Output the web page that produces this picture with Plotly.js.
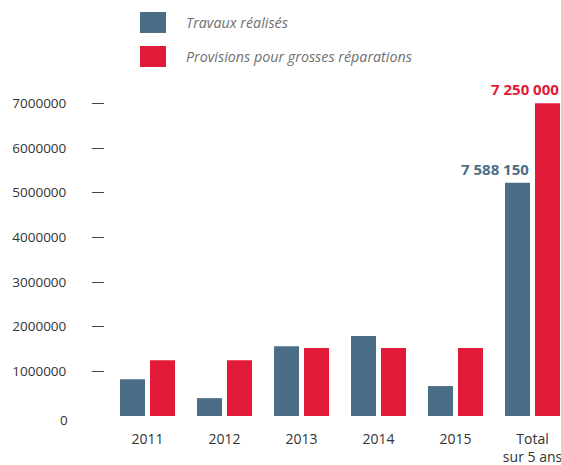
<!DOCTYPE html>
<html><head><meta charset="utf-8">
<script src="https://cdn.plot.ly/plotly-3.0.1.min.js"></script>
<style>html,body{margin:0;padding:0;background:#fff}#chart{width:561px;height:465px}</style>
</head><body><div id="chart"></div>
<script>
var categories = ["2011", "2012", "2013", "2014", "2015", "Total<br>sur 5 ans"];
var travaux = [820000, 400000, 1560000, 1790000, 670000, 5220000];
var provisions = [1250000, 1250000, 1520000, 1520000, 1520000, 7000000];
var seriesNames = ["Travaux réalisés", "Provisions pour grosses réparations"];
var totalLabels = ["7 588 150", "7 250 000"];
var yTicks = [1000000, 2000000, 3000000, 4000000, 5000000, 6000000, 7000000];
var zeroLabel = "0";

var blue = "#4b6e87", red = "#e01a37";
var font = "Open Sans, sans-serif";

var traces = [
  {type: "bar", x: categories, y: travaux, name: seriesNames[0], marker: {color: blue}, hoverinfo: "none"},
  {type: "bar", x: categories, y: provisions, name: seriesNames[1], marker: {color: red}, hoverinfo: "none"}
];

var last = categories.length - 1;
var annotations = [
  {xref: "x", yref: "y", x: last, y: travaux[last], text: "<b>" + totalLabels[0] + "</b>", showarrow: false,
   xanchor: "right", yanchor: "bottom", xshift: -2, yshift: 2, font: {family: font, size: 15, color: blue}},
  {xref: "x", yref: "y", x: last, y: provisions[last], text: "<b>" + totalLabels[1] + "</b>", showarrow: false,
   xanchor: "right", yanchor: "bottom", xshift: 28, yshift: 2, font: {family: font, size: 15, color: red}},
  {xref: "paper", yref: "y", x: 0, y: 0, xshift: -35, yshift: -4, xanchor: "right", yanchor: "middle",
   text: zeroLabel, showarrow: false, font: {family: font, size: 13.5, color: "#333"}}
];
var legendColors = [blue, red];
var shapes = [];
for (var i = 0; i < 2; i++) {
  var rowTop = 12 + i * 34;
  shapes.push({type: "rect", xref: "paper", yref: "paper", layer: "above",
    x0: (140 - 105) / 456, x1: (166 - 105) / 456,
    y0: (465 - 49 - (rowTop + 21)) / 335, y1: (465 - 49 - rowTop) / 335,
    fillcolor: legendColors[i], line: {width: 0}});
  annotations.push({xref: "paper", yref: "paper", x: (184 - 105) / 456, y: (465 - 49 - (rowTop + 10)) / 335,
    xanchor: "left", yanchor: "middle", showarrow: false, text: "<i>" + seriesNames[i] + "</i>",
    font: {family: font, size: 14.3, color: "#707070"}});
}

var layout = {
  width: 561, height: 465,
  margin: {l: 105, r: 0, t: 81, b: 49},
  paper_bgcolor: "#fff", plot_bgcolor: "#fff",
  showlegend: false,
  barmode: "group", bargap: 0.221, bargroupgap: 0.1667,
  xaxis: {type: "category", range: [-0.552, 5.37], showgrid: false, zeroline: false, showline: false,
    ticks: "", tickfont: {family: font, size: 14, color: "#333"}, ticklabelstandoff: 13},
  yaxis: {range: [0, 7500000], tickvals: yTicks, ticktext: yTicks.map(String), showgrid: false, zeroline: false,
    showline: false, ticks: "outside", ticklen: 12, tickwidth: 1, tickcolor: "#444",
    tickfont: {family: font, size: 13.5, color: "#333"}, ticklabelstandoff: 23},
  annotations: annotations,
  shapes: shapes
};
Plotly.newPlot("chart", traces, layout, {staticPlot: true, displayModeBar: false});
</script></body></html>
